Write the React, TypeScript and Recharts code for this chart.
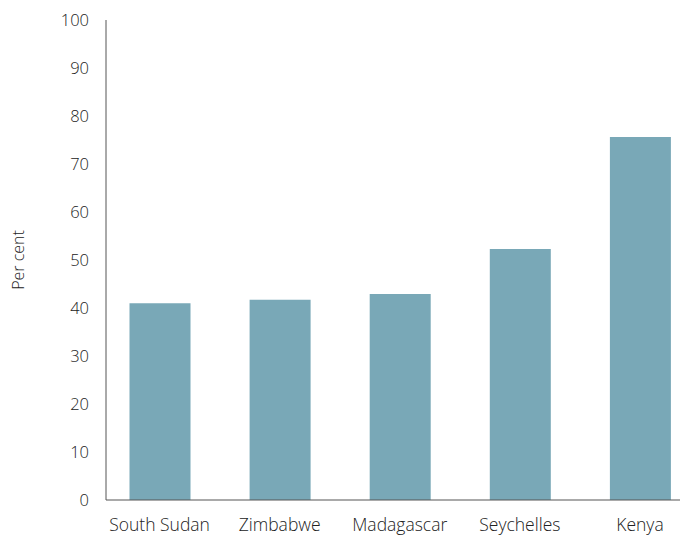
import { BarChart, Bar, XAxis, YAxis, Label } from 'recharts'

const countries = ['South Sudan', 'Zimbabwe', 'Madagascar', 'Seychelles', 'Kenya']
const perCent = [41.0, 41.7, 42.9, 52.3, 75.6]
const yTicks = [0, 10, 20, 30, 40, 50, 60, 70, 80, 90, 100]

const data = countries.map((c, i) => ({ c, v: perCent[i] }))

const font = { fontFamily: '"Open Sans", "Noto Sans", sans-serif', fontSize: 16.5, fill: '#222', fontWeight: 300 }

export default function App() {
    return (
        <div
            style={{
                position: 'absolute',
                left: 0,
                top: 0,
                width: 680,
                height: 537,
                overflow: 'hidden',
                background: '#fff',
            }}
        >
            <BarChart
                width={700}
                height={537}
                data={data}
                margin={{ top: 20, right: 0, bottom: 0, left: 0 }}
            >
                <XAxis
                    dataKey="c"
                    height={37}
                    padding={{ left: -6.5, right: 0 }}
                    tickLine={false}
                    tickSize={0}
                    tickMargin={19}
                    interval={0}
                    axisLine={{ stroke: '#555' }}
                    tick={{ ...font, fontSize: 17.5 }}
                />
                <YAxis
                    width={106}
                    domain={[0, 100]}
                    ticks={yTicks}
                    tickLine={false}
                    tickSize={0}
                    tickMargin={17}
                    axisLine={{ stroke: '#555' }}
                    tick={font}
                >
                    <Label
                        value="Per cent"
                        angle={-90}
                        position="insideLeft"
                        offset={18}
                        style={{ ...font, fontSize: 16, textAnchor: 'middle' }}
                    />
                </YAxis>
                <Bar dataKey="v" fill="#79a8b7" barSize={61} isAnimationActive={false} />
            </BarChart>
        </div>
    )
}
